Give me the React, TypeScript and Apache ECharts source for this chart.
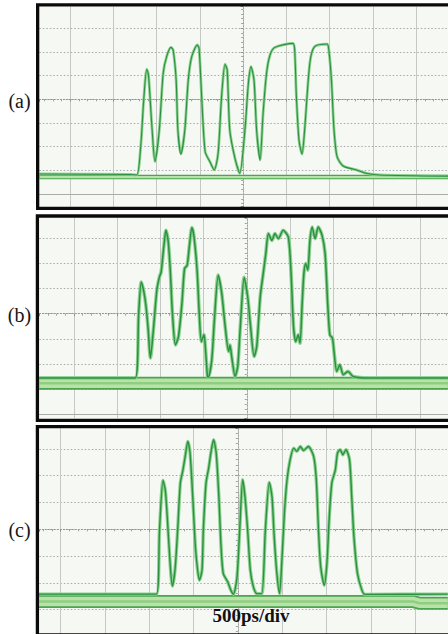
import React, { useEffect, useRef } from "react";
import * as echarts from "echarts";

// ---------- DATA (x in divisions of 500 ps, y in vertical divisions; 0 = screen centre) ----------
const panelLabels = ["(a)", "(b)", "(c)"];
const timebaseLabel = "500ps/div";

const traceA: number[][] = [
  [-4.71, -3.15], [-2.61, -3.17], [-2.46, -3.19], [-2.37, -2.0], [-2.3, -0.03], [-2.23, 1.27], [-2.19, 1.03],
  [-2.11, -1.16], [-2.04, -2.63], [-1.94, -1.3], [-1.85, 1.1], [-1.77, 1.8], [-1.67, 2.19], [-1.62, 2.08],
  [-1.55, 0.81], [-1.51, -1.3], [-1.44, -2.31], [-1.35, -1.3], [-1.27, 0.81], [-1.19, 1.8], [-1.06, 2.29],
  [-1.02, 2.15], [-0.96, 0.11], [-0.88, -2.21], [-0.77, -2.63], [-0.67, -2.98], [-0.58, -2.28], [-0.5, 0.11],
  [-0.42, 1.48], [-0.37, 1.24], [-0.31, -1.3], [-0.19, -2.49], [-0.08, -3.12], [0.04, -1.3], [0.12, 0.68],
  [0.18, 1.38], [0.25, 0.81], [0.31, -1.3], [0.39, -2.56], [0.46, -0.59], [0.54, 1.1], [0.62, 1.87],
  [0.73, 2.19], [1.15, 2.36], [1.19, 2.08], [1.23, 0.11], [1.29, -1.72], [1.36, -2.31], [1.42, -1.3],
  [1.54, 1.52], [1.65, 2.22], [1.94, 2.33], [1.98, 2.08], [2.04, 0.81], [2.1, -1.3], [2.17, -2.42],
  [2.31, -2.81], [2.62, -2.98], [2.85, -3.12], [3.15, -3.19], [4.74, -3.24],
];
const baseA: number[][] = [[-4.71, -3.28], [4.74, -3.28]];

const traceB: number[][] = [
  [-4.8, -2.55], [-2.58, -2.55], [-2.5, 0.02], [-2.44, 1.26], [-2.38, 0.87], [-2.33, 0.28], [-2.28, -0.64],
  [-2.23, -1.76], [-2.16, -0.64], [-2.08, 0.94], [-2.02, 1.46], [-1.98, 1.66], [-1.92, 2.65], [-1.87, 3.31],
  [-1.82, 2.91], [-1.77, 1.73], [-1.72, 0.02], [-1.65, -1.24], [-1.58, -0.91], [-1.5, 0.41], [-1.44, 1.79],
  [-1.38, 1.92], [-1.33, 2.65], [-1.27, 3.42], [-1.22, 3.04], [-1.15, 1.73], [-1.1, 0.02], [-1.05, -1.11],
  [-0.99, -0.84], [-0.96, -1.3], [-0.91, -2.49], [-0.89, -2.51], [-0.81, -1.83], [-0.75, -0.25], [-0.66, 1.53],
  [-0.58, 0.81], [-0.5, -0.51], [-0.42, -1.5], [-0.39, -1.24], [-0.35, -1.7], [-0.27, -2.49], [-0.21, -2.09],
  [-0.15, -0.51], [-0.06, 1.44], [0.02, 0.67], [0.08, -0.38], [0.17, -1.7], [0.23, -1.3], [0.31, 0.67],
  [0.38, 1.6], [0.44, 2.39], [0.5, 3.18], [0.58, 2.91], [0.65, 3.18], [0.73, 2.98], [0.84, 3.31], [0.96, 3.04],
  [1.02, 1.73], [1.08, -0.51], [1.13, -1.11], [1.19, -0.84], [1.23, -1.17], [1.28, 0.41], [1.32, 1.6],
  [1.36, 1.99], [1.41, 1.73], [1.46, 2.91], [1.51, 3.44], [1.58, 2.98], [1.65, 3.44], [1.74, 3.11],
  [1.81, 2.39], [1.87, 0.41], [1.92, -0.84], [1.98, -0.97], [2.02, -1.57], [2.08, -2.29], [2.15, -2.03],
  [2.23, -2.42], [2.34, -2.29], [2.46, -2.49], [2.81, -2.55], [4.65, -2.55],
];
const baseB: number[][] = [[-4.8, -2.76], [4.65, -2.76]];

const traceC: number[][] = [
  [-4.49, -2.42], [-1.84, -2.42], [-1.77, -0.03], [-1.69, 1.82], [-1.64, 1.47], [-1.6, 0.6], [-1.54, -1.03],
  [-1.48, -2.12], [-1.42, -1.52], [-1.36, -0.03], [-1.3, 1.72], [-1.24, 2.22], [-1.19, 2.72], [-1.13, 3.28],
  [-1.08, 2.85], [-1.02, 1.22], [-0.96, -0.65], [-0.91, -1.52], [-0.87, -1.9], [-0.81, -1.52], [-0.78, -0.03],
  [-0.72, 1.72], [-0.66, 2.28], [-0.61, 2.85], [-0.55, 3.34], [-0.49, 2.85], [-0.43, 1.22], [-0.38, -0.65],
  [-0.33, -1.65], [-0.23, -1.96], [-0.16, -2.27], [-0.1, -2.42], [-0.02, -1.78], [0.04, -0.03], [0.11, 1.85],
  [0.16, 1.22], [0.22, -0.03], [0.28, -1.52], [0.35, -2.15], [0.43, -2.4], [0.54, -2.4], [0.62, -0.03],
  [0.71, 1.75], [0.77, 1.22], [0.82, -0.28], [0.88, -1.65], [0.94, -2.4], [0.99, -1.27], [1.05, 0.6],
  [1.11, 1.85], [1.18, 2.6], [1.26, 3.03], [1.33, 2.91], [1.41, 3.09], [1.48, 2.94], [1.59, 3.09],
  [1.71, 2.72], [1.77, 1.85], [1.82, -0.03], [1.87, -1.4], [1.95, -2.09], [2.01, -1.27], [2.06, 0.35],
  [2.12, 1.72], [2.2, 2.22], [2.25, 2.85], [2.31, 2.97], [2.37, 2.78], [2.44, 2.97], [2.52, 2.6],
  [2.57, 1.22], [2.62, -0.28], [2.7, -1.65], [2.8, -2.27], [2.87, -2.43], [4.74, -2.42],
];
const baseC: number[][] = [[-4.49, -2.69], [3.95, -2.69], [4.1, -2.76], [4.74, -2.76]];

const graticuleBottom = -4;

// ---------- LAYOUT ----------
const gridBoxes = [
  { left: 39.3, top: 6.7, width: 408.7, height: 200 },
  { left: 39.3, top: 217.7, width: 408.7, height: 200.6 },
  { left: 39.3, top: 428.3, width: 408.7, height: 205.7 },
];
const xExtents = [[-4.714, 4.735], [-4.798, 4.652], [-4.484, 4.744]];
const yExtents = [[-4.53, 3.906], [-4.151, 3.81], [-3.907, 3.769]];
const borderBoxes = [
  { x: 37.65, y: 4.85, h: 203.5 },
  { x: 37.4, y: 216, h: 204.3 },
  { x: 37.4, y: 426.7, h: 208.3 },
];
const labelY = [100.5, 315, 529.5];
const bandWidths = [
  [4.5, 2.2, 0],
  [13, 9.5, 2.5],
  [13, 9.5, 2.5],
];
const traceWidths = [
  [2.8, 1.1],
  [3.6, 1.5],
  [3.4, 1.4],
];

const traces = [traceA, traceB, traceC];
const bases = [baseA, baseB, baseC];

export default function App() {
  const ref = useRef<HTMLDivElement>(null);

  useEffect(() => {
    if (!ref.current) return;
    const chart = echarts.init(ref.current, null, { renderer: "svg", width: 448, height: 634 });

    const xAxis = gridBoxes.map((_, i) => ({
      type: "value",
      gridIndex: i,
      min: xExtents[i][0],
      max: xExtents[i][1],
      minInterval: 1,
      maxInterval: 1,
      splitNumber: 10,
      axisLine: { show: true, onZero: true, lineStyle: { color: "#939393", width: 1, type: [1, 2] } },
      axisTick: { show: true, length: 2.5, lineStyle: { color: "#939393" } },
      minorTick: { show: true, splitNumber: 5, length: 2, lineStyle: { color: "#a0a0a0" } },
      axisLabel: { show: false },
      splitLine: {
        show: true,
        showMinLine: false,
        showMaxLine: false,
        lineStyle: { color: "#c5c8c5", width: 1, type: "solid" },
      },
    }));

    const yAxis = gridBoxes.map((_, i) => ({
      type: "value",
      gridIndex: i,
      min: yExtents[i][0],
      max: yExtents[i][1],
      minInterval: 1,
      maxInterval: 1,
      splitNumber: 8,
      axisLine: { show: true, onZero: true, lineStyle: { color: "#a0a0a0", width: 1, type: [1, 2] } },
      axisTick: { show: true, length: 2.5, lineStyle: { color: "#939393" } },
      minorTick: { show: true, splitNumber: 5, length: 2, lineStyle: { color: "#a0a0a0" } },
      axisLabel: { show: false },
      splitLine: {
        show: true,
        showMinLine: false,
        showMaxLine: false,
        lineStyle: { color: "#a8aaa8", width: 1, type: [1.5, 2] },
      },
    }));

    const series: any[] = [];
    gridBoxes.forEach((_, i) => {
      const [wOuter, wInner, wMid] = bandWidths[i];
      series.push({
        type: "line",
        xAxisIndex: i,
        yAxisIndex: i,
        data: bases[i],
        symbol: "none",
        silent: true,
        z: 2,
        lineStyle: { width: wOuter, color: "#4aa54f" },
        markLine:
          yExtents[i][0] <= graticuleBottom
            ? {
                silent: true,
                symbol: "none",
                label: { show: false },
                lineStyle: { color: "#a9aca9", width: 1, type: "solid" },
                data: [{ yAxis: graticuleBottom }],
              }
            : undefined,
      });
      series.push({
        type: "line",
        xAxisIndex: i,
        yAxisIndex: i,
        data: bases[i],
        symbol: "none",
        silent: true,
        z: 3,
        lineStyle: { width: wInner, color: "#b9e2a8" },
      });
      if (wMid > 0) {
        series.push({
          type: "line",
          xAxisIndex: i,
          yAxisIndex: i,
          data: bases[i],
          symbol: "none",
          silent: true,
          z: 4,
          lineStyle: { width: wMid, color: "#8fcd80" },
        });
      }
      series.push({
        type: "line",
        xAxisIndex: i,
        yAxisIndex: i,
        data: traces[i],
        symbol: "none",
        silent: true,
        smooth: 0.25,
        z: 5,
        lineStyle: { width: traceWidths[i][0], color: "#86cf8a", opacity: 0.95 },
      });
      series.push({
        type: "line",
        xAxisIndex: i,
        yAxisIndex: i,
        data: traces[i],
        symbol: "none",
        silent: true,
        smooth: 0.25,
        z: 6,
        lineStyle: { width: traceWidths[i][1], color: "#2b9140" },
      });
    });

    const graphic: any[] = [];
    borderBoxes.forEach((b) => {
      graphic.push({
        type: "rect",
        z: 100,
        silent: true,
        shape: { x: b.x, y: b.y, width: 520, height: b.h },
        style: { fill: "none", stroke: "#0b0b0b", lineWidth: 3.3 },
      });
    });
    panelLabels.forEach((t, i) => {
      graphic.push({
        type: "text",
        z: 110,
        x: 19.5,
        y: labelY[i],
        style: {
          text: t,
          font: '20px "Liberation Serif", "Times New Roman", serif',
          fill: "#151515",
          textAlign: "center",
          textVerticalAlign: "middle",
        },
      });
    });
    graphic.push({
      type: "text",
      z: 120,
      x: 251,
      y: 615,
      style: {
        text: timebaseLabel,
        font: 'bold 19px "Liberation Serif", "Times New Roman", serif',
        fill: "#111",
        textAlign: "center",
        textVerticalAlign: "middle",
      },
    });

    chart.setOption({
      animation: false,
      backgroundColor: "#ffffff",
      grid: gridBoxes.map((b) => ({ ...b, show: true, backgroundColor: "#f5f8f3", borderWidth: 0 })),
      xAxis,
      yAxis,
      series,
      graphic,
    });

    return () => chart.dispose();
  }, []);

  return (
    <div
      ref={ref}
      style={{ position: "fixed", left: 0, top: 0, width: 448, height: 634, background: "#fff" }}
    />
  );
}
